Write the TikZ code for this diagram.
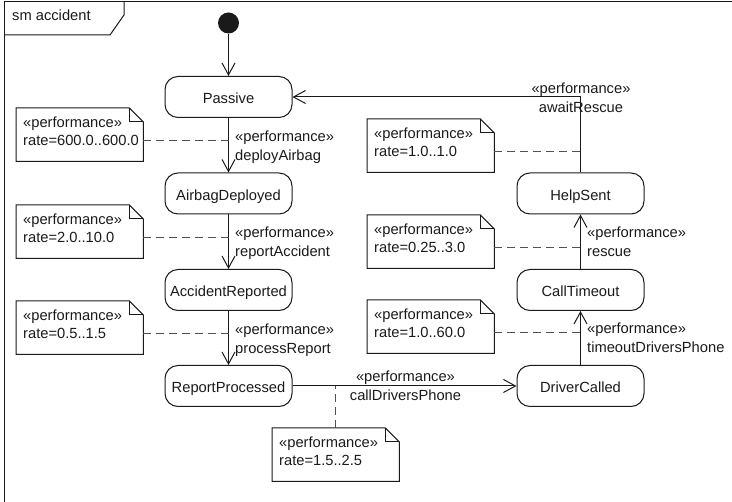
\documentclass[tikz,border=0pt]{standalone}
\usepackage{fontspec}
\setmainfont{Liberation Sans}
\usetikzlibrary{arrows.meta,calc}
\definecolor{ink}{HTML}{1A1A1A}
\definecolor{dashgray}{HTML}{505050}
\tikzset{
  every node/.style={font=\fontsize{14.7pt}{18.3pt}\selectfont, text=ink},
  state/.style={draw=ink, line width=1pt, rounded corners=13pt, minimum width=127pt,
    minimum height=41pt, inner sep=0pt, text height=14.5pt, text depth=0.5pt},
  trans/.style={draw=ink, line width=1pt, -{Straight Barb[length=12pt,width=13pt]}},
  dashline/.style={draw=dashgray, line width=1pt, dash pattern=on 8pt off 5pt},
  notebody/.style={rectangle, minimum width=127pt, minimum height=53pt, inner sep=0pt},
  notetext/.style={inner sep=0pt, align=left},
  noteline/.style={draw=ink, line width=1pt, line join=miter},
  tlabel/.style={inner sep=0pt, align=left},
  clabel/.style={inner sep=0pt, align=center},
  frameline/.style={draw=ink, line width=1pt},
  initial/.style={circle, fill=ink, minimum size=21pt, inner sep=0pt},
}
\newcommand\perfnote[4]{%
  \node[notebody, anchor=north west] (#1) at (#2,#3) {};
  \node[notetext, anchor=north west] (#1t) at ([xshift=7pt,yshift=-8.3pt]#1.north west) {«performance»\\#4};
  \draw[noteline] (#1.north west) -- ([xshift=-14pt]#1.north east) -- ([yshift=-14pt]#1.north east)
     -- (#1.south east) -- (#1.south west) -- cycle;
  \draw[noteline] ([xshift=-14pt]#1.north east) |- ([yshift=-14pt]#1.north east);
  \coordinate (#1a) at ([yshift=-32.5pt]#1.north east);
}
\begin{document}
\begin{tikzpicture}[x=1pt,y=-1pt]
\useasboundingbox (0,0) rectangle (732,502);
% frame
\draw[frameline] (4.5,502) -- (4.5,1.5) -- (732,1.5);
\draw[frameline] (4.5,35) -- (110,35) -- (124,15) -- (124,1.5);
\node[anchor=base west, inner sep=0pt] (title) at (12,20.5) {sm accident};
% states
\node[initial] (init) at (228.5,23) {};
\node[state] (pas) at (228.5,97) {Passive};
\node[state] (air) at (228.5,193.5) {AirbagDeployed};
\node[state] (acc) at (228.5,290) {AccidentReported};
\node[state] (rp) at (228.5,386) {ReportProcessed};
\node[state] (hs) at (580.5,193.5) {HelpSent};
\node[state] (ct) at (580.5,290) {CallTimeout};
\node[state] (dc) at (580.5,386) {DriverCalled};
% transitions
\draw[trans] (init) -- (pas);
\draw[trans] (pas) -- (air);
\draw[trans] (air) -- (acc);
\draw[trans] (acc) -- (rp);
\draw[trans] (rp) -- (dc);
\draw[trans] (dc) -- (ct);
\draw[trans] (ct) -- (hs);
\draw[trans] (hs.north) |- (pas.east);
% transition labels
\node[tlabel, anchor=north west] (l1) at (235,131) {«performance»\\deployAirbag};
\node[tlabel, anchor=north west] (l2) at (235,227) {«performance»\\reportAccident};
\node[tlabel, anchor=north west] (l3) at (235,324) {«performance»\\processReport};
\node[clabel, anchor=north] (l4) at (581,83) {«performance»\\awaitRescue};
\node[tlabel, anchor=north west] (l5) at (587,227) {«performance»\\rescue};
\node[tlabel, anchor=north west] (l6) at (587,323) {«performance»\\timeoutDriversPhone};
\node[clabel, anchor=north] (l7) at (405.5,371) {«performance»\\callDriversPhone};
% notes
\perfnote{n1}{16}{108}{rate=600.0..600.0}
\perfnote{n2}{16}{205}{rate=2.0..10.0}
\perfnote{n3}{16}{301}{rate=0.5..1.5}
\perfnote{n4}{367}{119}{rate=1.0..1.0}
\perfnote{n5}{367}{215}{rate=0.25..3.0}
\perfnote{n6}{367}{300}{rate=1.0..60.0}
\perfnote{n7}{272}{428}{rate=1.5..2.5}
% note attachments
\draw[dashline] (n1a) -- (n1a -| pas);
\draw[dashline] (n2a) -- (n2a -| pas);
\draw[dashline] (n3a) -- (n3a -| pas);
\draw[dashline] (n4a) -- (n4a -| hs);
\draw[dashline] (n5a) -- (n5a -| hs);
\draw[dashline] (n6a) -- (n6a -| hs);
\draw[dashline] (n7.north) -- (n7.north |- rp);
\end{tikzpicture}
\end{document}
